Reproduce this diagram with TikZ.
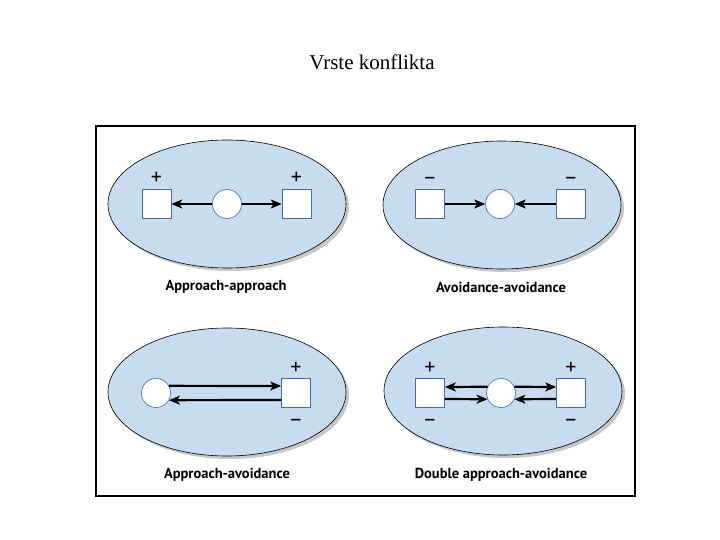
\documentclass[tikz,border=0pt]{standalone}
\usepackage{fontspec}
\setmainfont{Liberation Serif}
\setsansfont{PT Sans}
\usepackage{tikz}
\usetikzlibrary{arrows.meta,positioning,shapes.geometric,shadows}
\definecolor{ovalblue}{RGB}{199,220,240}
\definecolor{edgeblue}{RGB}{70,110,160}
\tikzset{pull/.style={line width=2.2pt,-{Stealth[length=11pt,width=9pt,inset=3pt]}}}

\begin{document}
\begin{tikzpicture}[x=1pt,y=-1pt,node distance=4pt and 4pt,font=\sffamily]

\tikzset{oval/.style={shape=ellipse,draw=black,line width=.6pt,fill=ovalblue,minimum width=238pt,minimum height=128pt,inner sep=0pt,drop shadow={shadow xshift=3pt,shadow yshift=-3pt,fill=black!22,opacity=1}},
boxnode/.style={shape=rectangle,draw=edgeblue,fill=white,line width=.6pt,minimum size=29pt,inner sep=0pt},
circnode/.style={shape=circle,draw=edgeblue,fill=white,line width=.6pt,minimum size=29pt,inner sep=0pt},
sign/.style={font=\sffamily\fontsize{22}{22}\selectfont,inner sep=0pt},
caption/.style={font=\sffamily\bfseries\fontsize{14.5}{16}\selectfont}}

\useasboundingbox (0,0) rectangle (720,540);

% Title and frame
\node[font=\rmfamily\fontsize{21}{24}\selectfont] (title) at (372,62) {Vrste konflikta};
\draw[line width=2pt] (96,126) rectangle (635,496);

% Ovals
\node[oval] (o1) at (227,204) {};
\node[oval] (o2) at (502,205) {};
\node[oval] (o3) at (227,392) {};
\node[oval] (o4) at (503,391) {};

% Approach-approach
\node[boxnode] (aaL) at (156.5,204) {};
\node[circnode] (aaC) at (227,204) {};
\node[boxnode] (aaR) at (296.5,204) {};
\node[sign,above=of aaL] {+};
\node[sign,above=of aaR] {+};
\draw[pull] (aaC) -- (aaL);
\draw[pull] (aaC) -- (aaR);
\node[caption] (aaText) at (226,287) {Approach-approach};

% Avoidance-avoidance
\node[boxnode] (vvL) at (430,204) {};
\node[circnode] (vvC) at (500,204) {};
\node[boxnode] (vvR) at (571,204) {};
\node[sign,above=of vvL] {–};
\node[sign,above=of vvR] {–};
\draw[pull] (vvL) -- (vvC);
\draw[pull] (vvR) -- (vvC);
\node[caption] (vvText) at (501,287) {Avoidance-avoidance};

% Approach-avoidance
\node[circnode] (apC) at (156,393) {};
\node[boxnode] (apR) at (296,393) {};
\node[sign,above=of apR] {+};
\node[sign,below=11pt of apR] {–};
\draw[pull] (apC.29) -- ([yshift=7pt]apR.west);
\draw[pull] ([yshift=-7pt]apR.west) -- (apC.-29);
\node[caption] (apText) at (227,475) {Approach-avoidance};

% Double approach-avoidance
\node[boxnode] (dL) at (430,393) {};
\node[circnode] (dC) at (501,393) {};
\node[boxnode] (dR) at (571,393) {};
\node[sign,above=of dL] {+};
\node[sign,above=of dR] {+};
\node[sign,below=11pt of dL] {–};
\node[sign,below=11pt of dR] {–};
\draw[pull] (dC.155) -- ([yshift=6pt]dL.east);
\draw[pull] (dC.25) -- ([yshift=6pt]dR.west);
\draw[pull] ([yshift=-6pt]dL.east) -- (dC.-155);
\draw[pull] ([yshift=-6pt]dR.west) -- (dC.-25);
\node[caption] (dText) at (501,475) {Double approach-avoidance};

\end{tikzpicture}
\end{document}
